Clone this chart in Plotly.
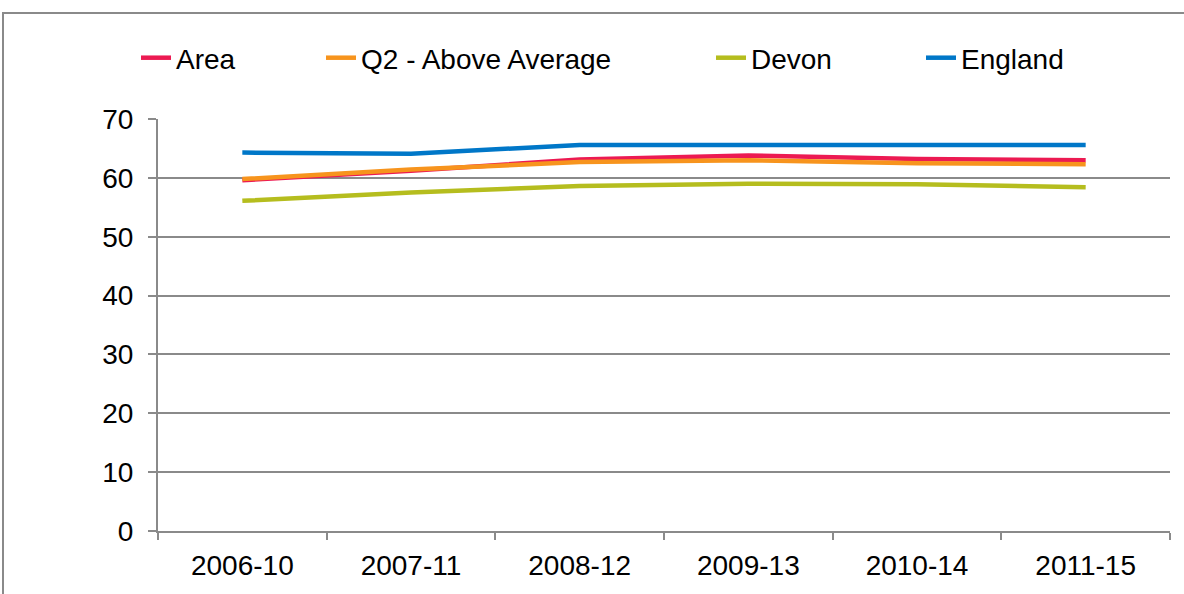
import plotly.graph_objects as go

categories = ["2006-10", "2007-11", "2008-12", "2009-13", "2010-14", "2011-15"]
area = [59.6, 61.2, 63.1, 63.8, 63.2, 63.0]
q2_above_average = [59.8, 61.4, 62.7, 63.0, 62.5, 62.3]
devon = [56.1, 57.5, 58.6, 59.0, 58.9, 58.4]
england = [64.3, 64.1, 65.6, 65.6, 65.6, 65.6]

series_names = ["Area", "Q2 - Above Average", "Devon", "England"]
series_values = [area, q2_above_average, devon, england]
series_colors = ["#EC1A52", "#F7941D", "#B5BD1E", "#0077C8"]
legend_ids = ["legend", "legend2", "legend3", "legend4"]
legend_text_x = [176, 361, 751, 961]

W, H = 1184, 594
L, R, T, B = 158, 14, 119, 63

fig = go.Figure()
for name, vals, col, lid in zip(series_names, series_values, series_colors, legend_ids):
    fig.add_trace(go.Scatter(x=categories, y=vals, mode="lines", name=name,
                             line=dict(color=col, width=4.5), legend=lid))

font = dict(family="Liberation Sans, Arial, sans-serif", size=28, color="#000000")
grid = "#8A8A8A"

layout_legends = {}
for lid, tx in zip(legend_ids, legend_text_x):
    layout_legends[lid] = dict(orientation="h", xref="container", yref="container",
                               x=(tx - 40) / W, y=1 - 33 / H, xanchor="left", yanchor="top",
                               bgcolor="rgba(0,0,0,0)", font=font)

pw = W - L - R
ph = H - T - B

fig.update_layout(
    width=W, height=H,
    margin=dict(l=L, r=R, t=T, b=B, autoexpand=False),
    paper_bgcolor="white", plot_bgcolor="white",
    font=font,
    showlegend=True,
    xaxis=dict(type="category", showgrid=False, showline=True, linecolor=grid, linewidth=2,
               ticks="outside", tickson="boundaries", ticklen=7, tickcolor=grid, tickwidth=1.5,
               ticklabelstandoff=8, range=[-0.5, 5.5], tickfont=font, automargin=False),
    yaxis=dict(range=[0, 70], dtick=10, showgrid=True, gridcolor=grid, gridwidth=2,
               showline=True, linecolor=grid, linewidth=2, zeroline=False,
               ticks="outside", ticklen=8, tickcolor=grid, tickwidth=1.5,
               ticklabelstandoff=9, tickfont=font, automargin=False),
    shapes=[dict(type="rect", xref="paper", yref="paper",
                 x0=(3 - L) / pw, x1=(1200 - L) / pw,
                 y0=(H - B - 620) / ph, y1=(H - B - 13) / ph,
                 line=dict(color="#8A8A8A", width=2), fillcolor="rgba(0,0,0,0)", layer="below")],
    **layout_legends,
)

fig.write_html("out.html", config={"displayModeBar": False},
               post_script="document.body.style.margin='0';")
